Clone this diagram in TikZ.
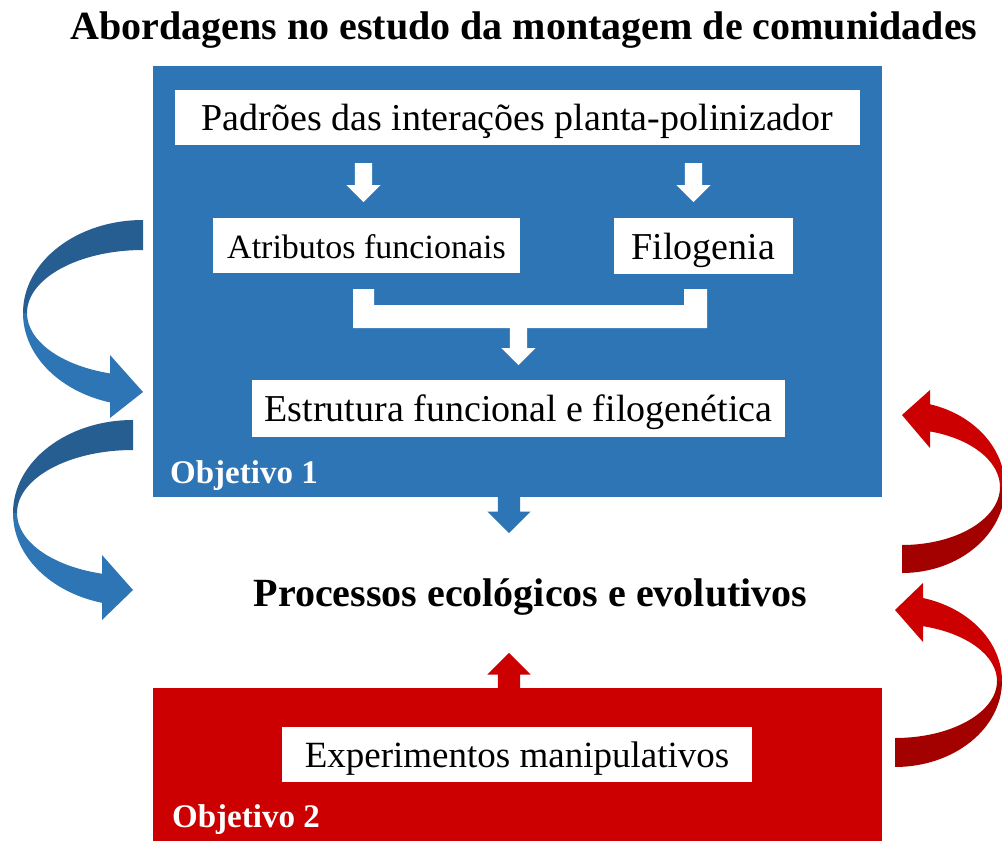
\documentclass[tikz,border=0pt]{standalone}
\usepackage{fontspec}
\setmainfont{Liberation Serif}
\usetikzlibrary{shapes.arrows}

\definecolor{objblue}{RGB}{46,117,182}
\definecolor{objbluedark}{RGB}{38,94,146}
\definecolor{objred}{RGB}{204,0,0}
\definecolor{objreddark}{RGB}{163,0,0}

% curved block arrow, tail at (0,0)
% #1 colour, #2 #3 outer radii, #4 #5 inner radii, #6 head back, #7 #8 head wings, #9 tip
\newcommand{\bendarrow}[9]{%
  \fill[#1dark] (-90:#2 and #3) arc[start angle=-90, end angle=-180, x radius=#2, y radius=#3]
    -- (180:#4 and #5) arc[start angle=180, end angle=270, x radius=#4, y radius=#5] -- cycle;
  \fill[#1] (180:#2 and #3) arc[start angle=180, end angle={acos(-#6/#2)}, x radius=#2, y radius=#3]
    -- (-#6,#8) -- (0,#9) -- (-#6,#7)
    -- ({acos(-#6/#4)}:#4 and #5) arc[start angle={acos(-#6/#4)}, end angle=180, x radius=#4, y radius=#5] -- cycle;
}

\begin{document}
\begin{tikzpicture}[x=1pt, y=-1pt,
    box/.style={fill=white, inner sep=0pt, text height=27pt, text depth=1pt, font=\fontsize{38}{44}\selectfont},
    bigtext/.style={inner sep=0pt, font=\fontsize{40}{48}\selectfont\bfseries},
    objlabel/.style={inner sep=0pt, text=white, font=\fontsize{33}{39}\selectfont\bfseries},
    blockarrow/.style={single arrow, draw=none, inner sep=8.5pt, single arrow head extend=8.5, minimum width=34},
    bigarrow/.style={single arrow, draw=none, inner sep=11pt, single arrow head extend=10.5, minimum width=43}]

  \useasboundingbox (0,0) rectangle (1002,841);
  \clip (0,0) rectangle (1002,841);

  \node[bigtext, anchor=base] (title) at (524,39) {Abordagens no estudo da montagem de comunidades};

  % objetivo 1
  \fill[objblue] (153,66) rectangle (882,497);
  \node[box, minimum width=685, minimum height=55] (padroes) at (517.5,117.5) {Padrões das interações planta-polinizador};
  \node[box, minimum width=307, minimum height=55, font=\fontsize{34}{40}\selectfont] (atrib) at (366.5,245.5) {Atributos funcionais};
  \node[box, minimum width=179, minimum height=56] (filog) at (703.5,246) {Filogenia};
  \node[box, minimum width=533, minimum height=57] (estrut) at (518.5,408.5) {Estrutura funcional e filogenética};
  \node[objlabel, anchor=base west] (obj1) at (170,483) {Objetivo 1};

  \node[blockarrow, fill=white, shape border rotate=270, minimum height=39, anchor=tail] (seta1) at (363.5,163) {};
  \node[blockarrow, fill=white, shape border rotate=270, minimum height=39, anchor=tail] (seta2) at (693.5,163) {};
  \fill[white] (353,289) rectangle (374,328) (684,289) rectangle (707,328) (353,305) rectangle (707,328);
  \node[blockarrow, fill=white, shape border rotate=270, minimum height=40, anchor=tail] (seta3) at (518.5,325) {};

  \node[bigarrow, fill=objblue, shape border rotate=270, minimum height=45, anchor=tail] (seta4) at (509,488) {};

  \node[bigtext, anchor=base] (proc) at (530.5,606) {Processos ecológicos e evolutivos};

  % objetivo 2
  \fill[objred] (153,688) rectangle (882,841);
  \node[bigarrow, fill=objred, shape border rotate=90, minimum height=45, anchor=tail] (seta5) at (509,698) {};
  \node[box, minimum width=470, minimum height=55, font=\fontsize{37}{43}\selectfont] (exper) at (517,754.5) {Experimentos manipulativos};
  \node[objlabel, anchor=base west] (obj2) at (172,827) {Objetivo 2};

  % setas curvas
  \begin{scope}[shift={(143,313)}]
    \bendarrow{objblue}{120}{93}{116}{63}{33}{42}{105}{79}
  \end{scope}
  \begin{scope}[shift={(133,513)}]
    \bendarrow{objblue}{120}{93}{116}{63}{31}{42}{107}{77}
  \end{scope}
  \begin{scope}[shift={(902,487)}, rotate=180]
    \bendarrow{objred}{103}{86}{98}{58}{28}{39}{97}{72}
  \end{scope}
  \begin{scope}[shift={(895,681)}, rotate=180]
    \bendarrow{objred}{107}{86}{102}{57}{28}{39}{98}{71}
  \end{scope}
\end{tikzpicture}
\end{document}
